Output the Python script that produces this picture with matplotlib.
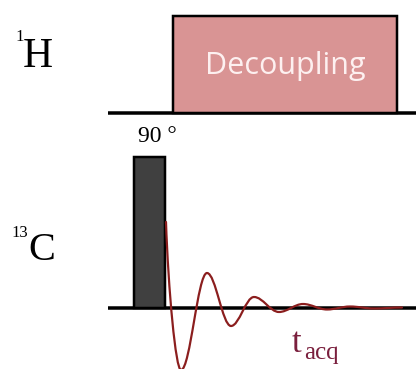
import matplotlib
matplotlib.use("Agg")
import matplotlib.pyplot as plt
from matplotlib.patches import Rectangle, PathPatch
from matplotlib.path import Path

# pixel layout of the pulse sequence (image coords, y down)
W, H = 416, 369
h_base_y = 113      # 1H channel baseline
c_base_y = 307.5    # 13C channel baseline
base_x0 = 108

decoup_box = (173, 16, 397)     # x0, top, x1
pulse_box = (134, 157, 165)     # x0, top, x1

# FID extrema (x, y in pixels)
fid_x = [166, 181, 207, 231, 254, 279, 303, 327, 350, 374, 402]
fid_y = [222, 370, 273, 326, 297, 312, 304, 309.5, 306.5, 308.5, 307.5]

px = 0.72  # pixel -> point at dpi 100

fig = plt.figure(figsize=(4.16, 3.69), dpi=100)
ax = fig.add_axes([0, 0, 1, 1])
ax.set_xlim(0, W)
ax.set_ylim(H, 0)
ax.axis('off')

# baselines
ax.plot([base_x0, W], [h_base_y, h_base_y], color='black', lw=3.5*px, solid_capstyle='butt', zorder=2)
ax.plot([base_x0, W], [c_base_y, c_base_y], color='black', lw=3.5*px, solid_capstyle='butt', zorder=2)

# decoupling block on 1H
x0, top, x1 = decoup_box
ax.add_patch(Rectangle((x0, top), x1-x0, h_base_y-top, facecolor='#d99494',
                       edgecolor='black', lw=2.5*px, zorder=3))
ax.text((x0+x1)/2, 66, 'Decoupling', family='Open Sans', fontsize=22, color='#fdf0f0',
        ha='center', va='center', zorder=4)

# 90 degree pulse on 13C
x0, top, x1 = pulse_box
ax.add_patch(Rectangle((x0, top), x1-x0, c_base_y-top, facecolor='#404040',
                       edgecolor='black', lw=2.5*px, zorder=3))
ax.text(157, 136, '90 °', family='Liberation Serif', fontsize=17, color='black',
        ha='center', va='center')

# FID drawn as bezier half-waves between extrema
verts = [(fid_x[0], fid_y[0])]
codes = [Path.MOVETO]
for i in range(1, len(fid_x)):
    xa, ya = fid_x[i-1], fid_y[i-1]
    xb, yb = fid_x[i], fid_y[i]
    dx = xb - xa
    if i == 1:
        c1 = (xa + 0.15*dx, ya + 0.45*(yb-ya))
    else:
        c1 = (xa + 0.36*dx, ya)
    c2 = (xb - 0.36*dx, yb)
    verts += [c1, c2, (xb, yb)]
    codes += [Path.CURVE4]*3
ax.add_patch(PathPatch(Path(verts, codes), facecolor='none', edgecolor='#8b1e1e',
                       lw=2.2*px, zorder=4, capstyle='round'))

# channel labels
ax.text(23, 67, 'H', family='Liberation Serif', fontsize=30, ha='left', va='baseline')
ax.text(15, 41, '1', family='Liberation Serif', fontsize=12, ha='left', va='baseline')
ax.text(28, 260, 'C', family='Liberation Serif', fontsize=29, ha='left', va='baseline')
ax.text(11, 237, '13', family='Liberation Serif', fontsize=12, ha='left', va='baseline')

# acquisition time label
ax.text(292, 352, 't', family='Liberation Serif', fontsize=25, color='#7a1f3d',
        ha='left', va='baseline')
ax.text(304, 359, 'acq', family='Liberation Serif', fontsize=18, color='#7a1f3d',
        ha='left', va='baseline')

fig.savefig('out.png', dpi=100)
